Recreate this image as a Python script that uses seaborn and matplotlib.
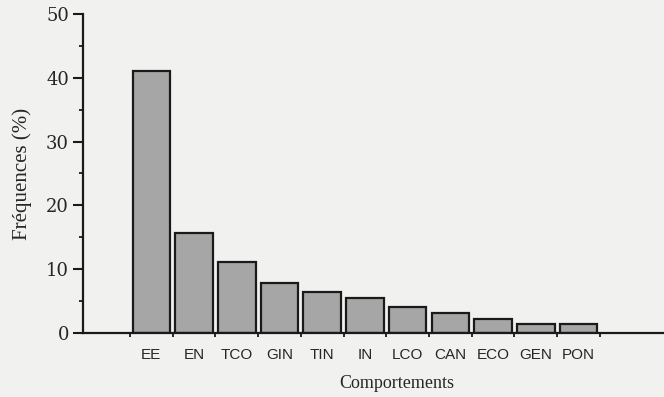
import matplotlib
matplotlib.use("Agg")
import matplotlib.pyplot as plt
import seaborn as sns
import pandas as pd
import numpy as np
from matplotlib.ticker import MultipleLocator, FixedLocator

categories = ["EE", "EN", "TCO", "GIN", "TIN", "IN", "LCO", "CAN", "ECO", "GEN", "PON"]
values = [41.0, 15.7, 11.2, 7.9, 6.4, 5.5, 4.1, 3.1, 2.2, 1.4, 1.4]
y_ticks = [0, 10, 20, 30, 40, 50]

sns.set_theme(style="white")
plt.rcParams['font.family'] = ['Liberation Serif', 'DejaVu Serif']

df = pd.DataFrame({"cat": categories, "val": values})

bg = "#f1f1ef"
fig = plt.figure(figsize=(6.64, 3.97), dpi=100, facecolor=bg)
ax = fig.add_axes([0.125, 0.161, 0.875, 0.804])
ax.set_facecolor(bg)

sns.barplot(data=df, x="cat", y="val", order=categories, color="#a6a6a6",
            saturation=1, width=0.88, edgecolor="#1a1a1a", linewidth=1.6, ax=ax)

ax.set_xlim(-1.60, 12.0)
ax.set_ylim(0, 50)
ax.set_yticks(y_ticks)
ax.set_yticklabels([str(t) for t in y_ticks], fontsize=13, family=['DejaVu Serif'])
ax.yaxis.set_minor_locator(MultipleLocator(5))
ax.tick_params(axis='y', which='major', direction='out', length=7, width=1.5, color='#1a1a1a', left=True, pad=3)
ax.tick_params(axis='y', which='minor', direction='out', length=3, width=1.3, color='#1a1a1a', left=True)

ax.xaxis.set_minor_locator(FixedLocator(np.arange(-0.5, len(categories), 1.0)))
ax.tick_params(axis='x', which='minor', direction='out', length=3, width=1.3, color='#1a1a1a', bottom=True)
ax.tick_params(axis='x', which='major', length=0, pad=11)
for lbl in ax.get_xticklabels():
    lbl.set_family(['Liberation Sans'])
    lbl.set_fontsize(11)

for s in ["top", "right"]:
    ax.spines[s].set_visible(False)
for s in ["left", "bottom"]:
    ax.spines[s].set_color("#1a1a1a")
    ax.spines[s].set_linewidth(1.6)

ax.set_xlabel("Comportements", fontsize=13, labelpad=9)
ax.set_ylabel("Fréquences (%)", fontsize=15, labelpad=10)
ax.xaxis.label.set_position((0.54, 0))

fig.savefig("out.png", dpi=100, facecolor=bg)
